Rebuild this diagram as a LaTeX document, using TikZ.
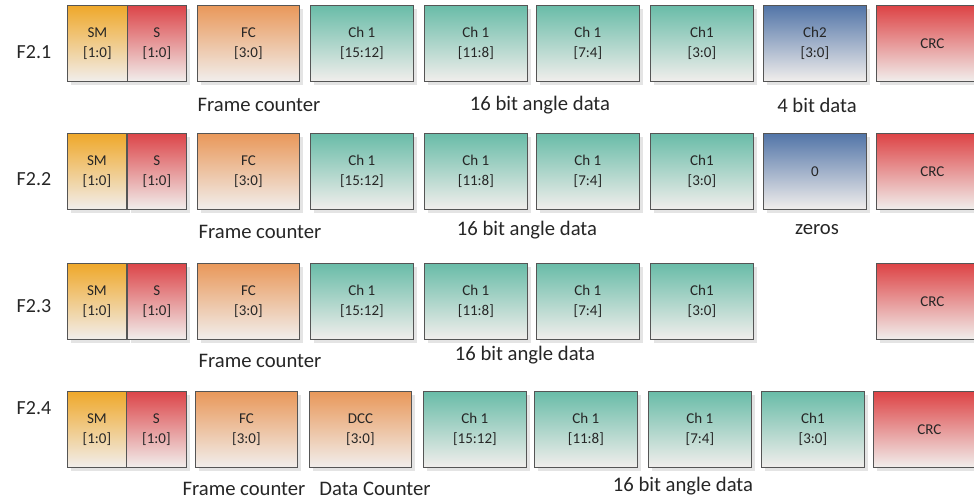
\documentclass[tikz,border=0pt]{standalone}
\usepackage{fontspec}
\setmainfont{Carlito}
\usetikzlibrary{shadows}

% field colours (top of the gradient)
\definecolor{smtop}{HTML}{EFA82A}
\definecolor{stop}{HTML}{DC4549}
\definecolor{fctop}{HTML}{E9985A}
\definecolor{chtop}{HTML}{69BCA8}
\definecolor{chbtop}{HTML}{5275A8}
\definecolor{crctop}{HTML}{DD4345}
\definecolor{fadebot}{HTML}{F1EEEC}
\definecolor{edge}{HTML}{555555}
\definecolor{shade}{HTML}{E4E4E4}

\tikzset{
  field/.style={draw=edge, line width=0.6pt, anchor=north west,
    minimum height=57pt, inner sep=0pt, align=center,
    font=\fontsize{11.25}{15}\selectfont, text=black!85,
    bottom color=fadebot,
    drop shadow={shadow xshift=3pt, shadow yshift=-3pt, fill=shade, opacity=1}},
  smf/.style={field, top color=smtop, minimum width=#1},
  sf/.style={field, top color=stop, minimum width=#1},
  fcf/.style={field, top color=fctop, minimum width=76.5pt},
  chf/.style={field, top color=chtop, minimum width=77.25pt},
  chbf/.style={field, top color=chbtop, minimum width=77.25pt},
  crcf/.style={field, top color=crctop, minimum width=84pt},
  rowlabel/.style={font=\fontsize{15}{18}\selectfont, text=black!85},
  note/.style={font=\fontsize{15.5}{18}\selectfont, text=black!85},
}

\begin{document}
\begin{tikzpicture}[x=0.75pt, y=-0.75pt]
\useasboundingbox (0,0) rectangle (974,502);
\clip (0,0) rectangle (974,502);

% ---------- F2.1 ----------
\node[rowlabel] (l1) at (34,52) {F2.1};
\node[smf=45pt] (a1) at (67,5) {SM\\{[1:0]}};
\node[sf=44.25pt] (a2) at (127,5) {S\\{[1:0]}};
\node[fcf] (a3) at (197,5) {FC\\{[3:0]}};
\node[chf] (a4) at (310,5) {Ch 1\\{[15:12]}};
\node[chf] (a5) at (424,5) {Ch 1\\{[11:8]}};
\node[chf] (a6) at (536,5) {Ch 1\\{[7:4]}};
\node[chf] (a7) at (650,5) {Ch1\\{[3:0]}};
\node[chbf] (a8) at (763,5) {Ch2\\{[3:0]}};
\node[crcf] (a9) at (876,5) {CRC};
\node[note] (n11) at (259,105) {Frame counter};
\node[note] (n12) at (540,105) {16 bit angle data};
\node[note] (n13) at (817,105) {4 bit data};

% ---------- F2.2 ----------
\node[rowlabel] (l2) at (34,179) {F2.2};
\node[smf=44.25pt] (b1) at (67,133) {SM\\{[1:0]}};
\node[sf=44.25pt] (b2) at (127,133) {S\\{[1:0]}};
\node[fcf] (b3) at (197,133) {FC\\{[3:0]}};
\node[chf] (b4) at (310,133) {Ch 1\\{[15:12]}};
\node[chf] (b5) at (424,133) {Ch 1\\{[11:8]}};
\node[chf] (b6) at (536,133) {Ch 1\\{[7:4]}};
\node[chf] (b7) at (650,133) {Ch1\\{[3:0]}};
\node[chbf] (b8) at (763,133) {0};
\node[crcf] (b9) at (876,133) {CRC};
\node[note] (n21) at (260,232) {Frame counter};
\node[note] (n22) at (527,230) {16 bit angle data};
\node[note] (n23) at (817,230) {zeros};

% ---------- F2.3 ----------
\node[rowlabel] (l3) at (34,306) {F2.3};
\node[smf=44.25pt] (c1) at (67,263) {SM\\{[1:0]}};
\node[sf=44.25pt] (c2) at (127,263) {S\\{[1:0]}};
\node[fcf] (c3) at (197,263) {FC\\{[3:0]}};
\node[chf] (c4) at (310,263) {Ch 1\\{[15:12]}};
\node[chf] (c5) at (424,263) {Ch 1\\{[11:8]}};
\node[chf] (c6) at (536,263) {Ch 1\\{[7:4]}};
\node[chf] (c7) at (650,263) {Ch1\\{[3:0]}};
\node[crcf] (c9) at (876,263) {CRC};
\node[note] (n31) at (260,361) {Frame counter};
\node[note] (n32) at (525,355) {16 bit angle data};

% ---------- F2.4 ----------
\node[rowlabel] (l4) at (34,408) {F2.4};
\node[smf=44.25pt] (d1) at (67,391) {SM\\{[1:0]}};
\node[sf=45pt] (d2) at (126,391) {S\\{[1:0]}};
\node[fcf] (d3) at (195,391) {FC\\{[3:0]}};
\node[fcf] (d4) at (309,391) {DCC\\{[3:0]}};
\node[chf] (d5) at (423,391) {Ch 1\\{[15:12]}};
\node[chf] (d6) at (534,391) {Ch 1\\{[11:8]}};
\node[chf] (d7) at (648,391) {Ch 1\\{[7:4]}};
\node[chf] (d8) at (761,391) {Ch1\\{[3:0]}};
\node[crcf] (d9) at (873,391) {CRC};
\node[note] (n41) at (244,489) {Frame counter};
\node[note] (n42) at (375,489) {Data Counter};
\node[note] (n43) at (683,486) {16 bit angle data};
\end{tikzpicture}
\end{document}
